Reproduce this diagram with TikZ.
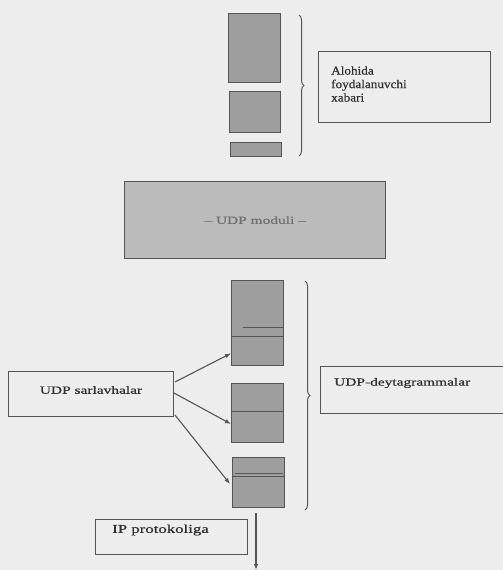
\documentclass[tikz,border=0pt]{standalone}
\usepackage{fontspec}
\setmainfont{Liberation Serif}
\newfontfamily\wide[FakeStretch=1.4,FakeBold=0.6]{Liberation Serif}
\newfontfamily\mild[FakeStretch=1.1,FakeBold=0.4]{Liberation Serif}
\usetikzlibrary{decorations.pathreplacing,calc,arrows.meta}
\definecolor{bg}{HTML}{EDEDED}
\definecolor{pkt}{HTML}{9E9E9E}
\definecolor{modfill}{HTML}{BBBBBB}
\definecolor{edge}{HTML}{555555}
\definecolor{ink}{HTML}{2E2E2E}
\tikzset{
  pktbox/.style={draw=edge, fill=pkt, line width=1.3pt, anchor=north west, inner sep=0pt},
  labbox/.style={draw=edge, fill=bg, line width=1pt, anchor=north west, inner sep=0pt},
  lab/.style={text=ink, inner sep=0pt},
  bracestyle/.style={draw=edge, line width=1pt, decorate, decoration={brace, amplitude=5pt}},
  conn/.style={draw=edge, line width=1.1pt, -{Latex[length=6pt,width=4.5pt]}},
  divider/.style={draw=edge, line width=1pt}
}
\begin{document}
\begin{tikzpicture}[x=1pt,y=-1pt]
\fill[bg] (0,0) rectangle (503,570);
\useasboundingbox (0,0) rectangle (503,570);

% top application message pieces
\node[pktbox, minimum width=52pt, minimum height=69pt] (t1) at (228,13) {};
\node[pktbox, minimum width=51pt, minimum height=41pt] (t2) at (229,91) {};
\node[pktbox, minimum width=51pt, minimum height=14pt] (t3) at (230,142) {};
\coordinate (b1a) at (299,15);
\coordinate (b1b) at (299,156);
\draw[bracestyle] (b1a) -- (b1b);

\node[labbox, minimum width=172pt, minimum height=71pt] (msg) at (318,51) {};
\node[lab, anchor=west, align=left, font=\mild\fontsize{12}{13.5}\selectfont] (msgt) at (331,84) {Alohida\\foydalanuvchi\\xabari};

% UDP module
\node[draw=edge, fill=modfill, line width=1.3pt, anchor=north west, minimum width=261pt, minimum height=77pt, inner sep=0pt,
      text=ink!70, font=\wide\fontsize{11}{13}\selectfont] (udp) at (124,181) {– UDP moduli –};

% datagrams
\node[pktbox, minimum width=52pt, minimum height=85pt] (m1) at (231,280) {};
\node[pktbox, minimum width=52pt, minimum height=59pt] (m2) at (231,383) {};
\node[pktbox, minimum width=52pt, minimum height=50pt] (m3) at (232,457) {};
\draw[divider] ($(m1.north west)+(12,47)$) -- ($(m1.north east)+(0,47)$);
\draw[divider] ($(m1.north west)+(0,56)$) -- ($(m1.north east)+(0,56)$);
\draw[divider] ($(m2.north west)+(0,28)$) -- ($(m2.north east)+(0,28)$);
\draw[divider] ($(m3.north west)+(3,16)$) -- ($(m3.north east)+(-2,16)$);
\draw[divider] ($(m3.north west)+(0,19)$) -- ($(m3.north east)+(0,19)$);

\coordinate (b2a) at (305,281);
\coordinate (b2b) at (305,510);
\draw[bracestyle] (b2a) -- (b2b);

\node[labbox, minimum width=185pt, minimum height=47pt] (dg) at (320,366) {};
\node[lab, anchor=west, font=\wide\fontsize{11}{13}\selectfont] (dgt) at (334,383) {UDP-deytagrammalar};

% UDP headers
\node[labbox, minimum width=165pt, minimum height=45pt] (hdr) at (8,371) {};
\node[lab, font=\wide\fontsize{11}{13}\selectfont] (hdrt) at (91,390) {UDP sarlavhalar};

\draw[conn] ($(hdr.north east)+(1,11)$) -- ($(m1.south west)+(0,-13)$);
\draw[conn] ($(hdr.north east)+(0,22)$) -- ($(m2.north west)+(0,41)$);
\draw[conn] ($(hdr.north east)+(1,44)$) -- ($(m3.north west)+(-2,27)$);

% IP
\node[labbox, minimum width=152pt, minimum height=35pt] (ip) at (95,519) {};
\node[lab, anchor=west, font=\wide\fontsize{12}{14}\selectfont] (ipt) at (112,530) {IP protokoliga};

\coordinate (va) at (256,513);
\coordinate (vb) at (256,570);
\draw[conn] (va) -- (vb);
\end{tikzpicture}
\end{document}
